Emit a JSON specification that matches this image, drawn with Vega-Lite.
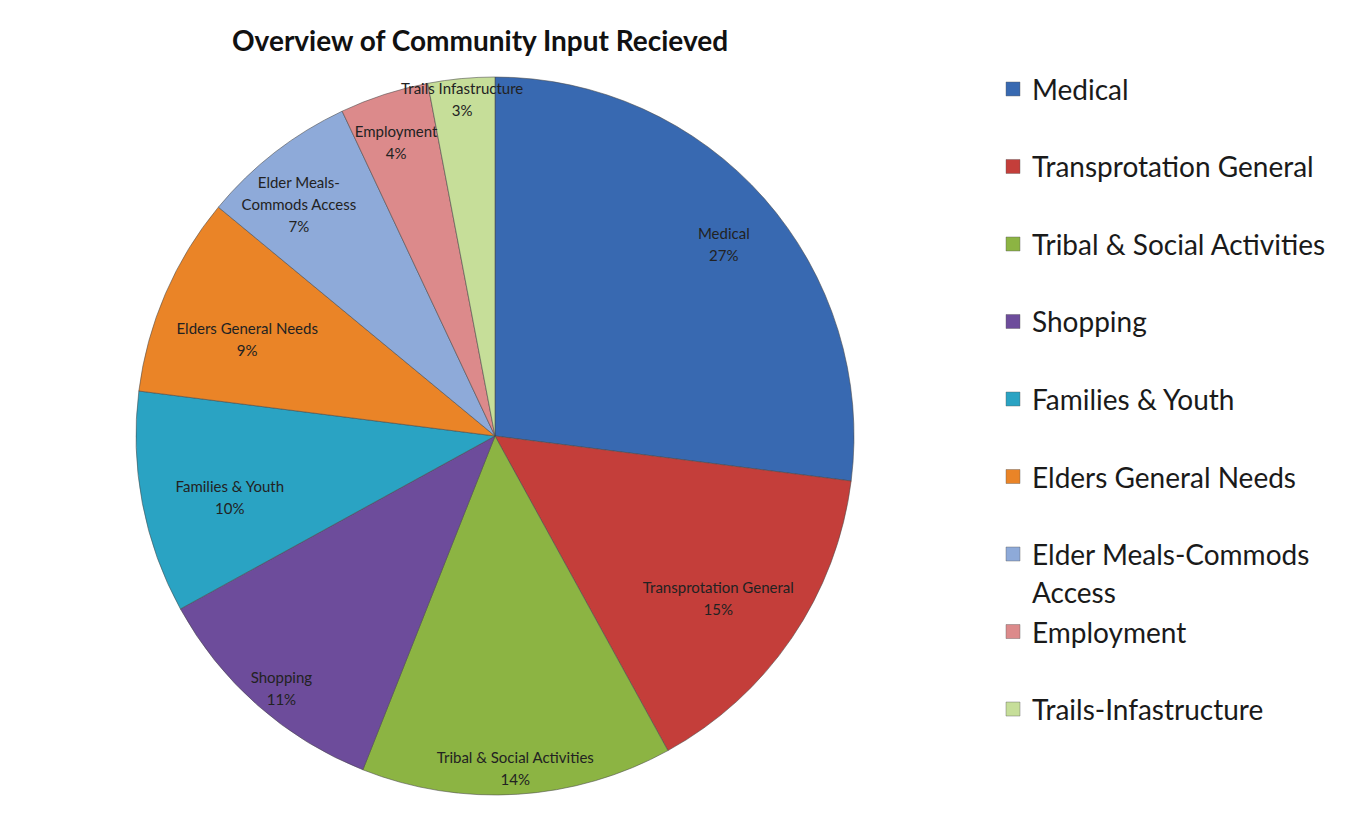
{
  "$schema": "https://vega.github.io/schema/vega-lite/v6.json",
  "autosize": {"type": "pad"},
  "padding": {"left": 0, "top": 29, "right": 0, "bottom": 0},
  "background": "white",
  "spacing": 15,
  "title": {
    "text": "Overview of Community Input Recieved",
    "font": "Lato",
    "fontSize": 28,
    "fontWeight": "bold",
    "color": "#111111",
    "anchor": "start",
    "frame": "group",
    "dx": 232,
    "offset": 5
  },
  "datasets": {
    "slices": [
      {"rank": 1, "category": "Medical", "value": 27, "lines": ["Medical", "27%"], "legendText": "Medical"},
      {"rank": 2, "category": "Transprotation General", "value": 15, "lines": ["Transprotation General", "15%"], "legendText": "Transprotation General"},
      {"rank": 3, "category": "Tribal & Social Activities", "value": 14, "lines": ["Tribal & Social Activities", "14%"], "legendText": "Tribal & Social Activities"},
      {"rank": 4, "category": "Shopping", "value": 11, "lines": ["Shopping", "11%"], "legendText": "Shopping"},
      {"rank": 5, "category": "Families & Youth", "value": 10, "lines": ["Families & Youth", "10%"], "legendText": "Families & Youth"},
      {"rank": 6, "category": "Elders General Needs", "value": 9, "lines": ["Elders General Needs", "9%"], "legendText": "Elders General Needs"},
      {"rank": 7, "category": "Elder Meals-Commods Access", "value": 7, "lines": ["Elder Meals-", "Commods Access", "7%"], "legendText": ["Elder Meals-Commods", "Access"]},
      {"rank": 8, "category": "Employment", "value": 4, "lines": ["Employment", "4%"], "legendText": "Employment"},
      {"rank": 9, "category": "Trails-Infastructure", "value": 3, "lines": ["Trails Infastructure", "3%"], "legendText": "Trails-Infastructure"}
    ]
  },
  "data": {"name": "slices"},
  "resolve": {"scale": {"color": "shared"}},
  "hconcat": [
    {
      "width": 990,
      "height": 748,
      "view": {"stroke": null},
      "encoding": {
        "theta": {"field": "value", "type": "quantitative", "stack": true},
        "order": {"field": "rank", "type": "quantitative"}
      },
      "layer": [
        {
          "mark": {"type": "arc", "outerRadius": 359, "stroke": "#4a4a4a", "strokeWidth": 0.8, "strokeOpacity": 0.7},
          "encoding": {
            "color": {
              "field": "category",
              "type": "nominal",
              "sort": null,
              "legend": null,
              "scale": {
                "domain": ["Medical", "Transprotation General", "Tribal & Social Activities", "Shopping", "Families & Youth", "Elders General Needs", "Elder Meals-Commods Access", "Employment", "Trails-Infastructure"],
                "range": ["#3869b1", "#c43e3a", "#8cb443", "#6d4c9b", "#2aa3c3", "#ea8427", "#8eaad9", "#dc8a8b", "#c6de99"]
              }
            }
          }
        },
        {
          "mark": {"type": "text", "radius": 305, "font": "Lato", "fontSize": 15, "color": "#222222", "lineHeight": 22},
          "encoding": {
            "text": {"condition": {"test": "datum.rank == 1", "field": "lines"}, "value": ""}
          }
        },
        {
          "mark": {"type": "text", "radius": 320, "font": "Lato", "fontSize": 15, "color": "#222222", "lineHeight": 22},
          "encoding": {
            "text": {"condition": {"test": "datum.rank == 7 || datum.rank == 8", "field": "lines"}, "value": ""}
          }
        },
        {
          "mark": {"type": "text", "radius": 270, "font": "Lato", "fontSize": 15, "color": "#222222", "lineHeight": 22},
          "encoding": {
            "text": {"condition": {"test": "datum.rank == 2 || datum.rank == 5 || datum.rank == 6", "field": "lines"}, "value": ""}
          }
        },
        {
          "mark": {"type": "text", "radius": 323, "font": "Lato", "fontSize": 15, "color": "#222222", "lineHeight": 22},
          "encoding": {
            "text": {"condition": {"test": "datum.rank == 3 || datum.rank == 4", "field": "lines"}, "value": ""}
          }
        },
        {
          "mark": {"type": "text", "radius": 349, "font": "Lato", "fontSize": 15, "color": "#222222", "lineHeight": 22},
          "encoding": {
            "text": {"condition": {"test": "datum.rank == 9", "field": "lines"}, "value": ""}
          }
        }
      ]
    },
    {
      "width": 14,
      "height": 674,
      "view": {"stroke": null},
      "encoding": {
        "y": {"field": "rank", "type": "ordinal", "axis": null, "scale": {"padding": 0.348}}
      },
      "layer": [
        {
          "mark": {"type": "square", "size": 196, "filled": true, "opacity": 1, "stroke": "#555555", "strokeWidth": 0.4},
          "encoding": {
            "color": {"field": "category", "type": "nominal", "sort": null, "legend": null}
          }
        },
        {
          "mark": {"type": "text", "align": "left", "baseline": "top", "dx": 19, "dy": -11, "font": "Lato", "fontSize": 28, "color": "#1a1a1a", "lineHeight": 38, "limit": 0},
          "encoding": {
            "text": {"field": "legendText"}
          }
        }
      ]
    }
  ]
}
